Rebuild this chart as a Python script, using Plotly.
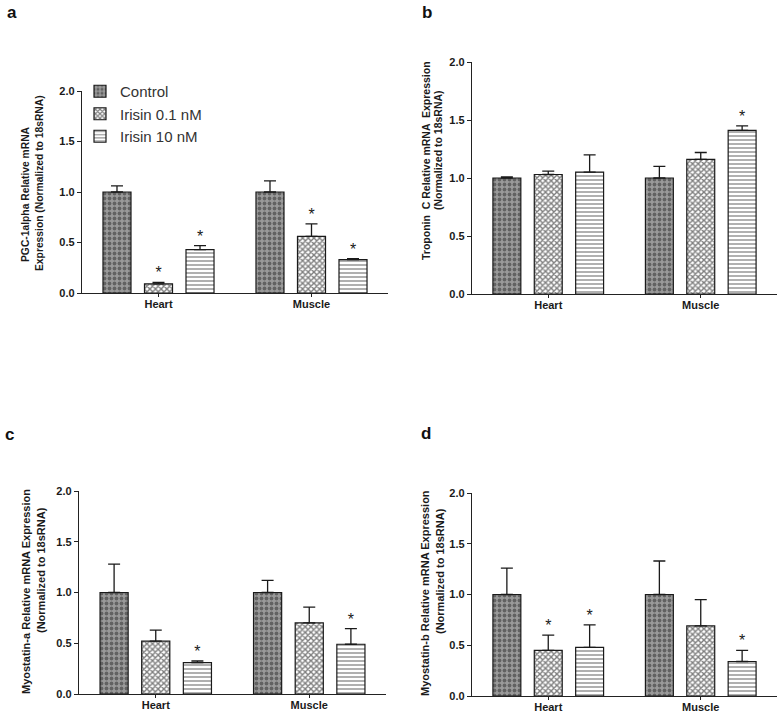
import plotly.graph_objects as go

W, H = 783, 716

categories = ["Heart", "Muscle"]
series_names = ["Control", "Irisin 0.1 nM", "Irisin 10 nM"]

# Panel a: PGC-1alpha
a_means = {"Control": [1.00, 1.00], "Irisin 0.1 nM": [0.09, 0.56], "Irisin 10 nM": [0.43, 0.33]}
a_err = {"Control": [0.06, 0.11], "Irisin 0.1 nM": [0.015, 0.125], "Irisin 10 nM": [0.04, 0.01]}
a_star = {"Control": [False, False], "Irisin 0.1 nM": [True, True], "Irisin 10 nM": [True, True]}

# Panel b: Troponin C
b_means = {"Control": [1.00, 1.00], "Irisin 0.1 nM": [1.03, 1.16], "Irisin 10 nM": [1.05, 1.41]}
b_err = {"Control": [0.01, 0.10], "Irisin 0.1 nM": [0.03, 0.06], "Irisin 10 nM": [0.15, 0.04]}
b_star = {"Control": [False, False], "Irisin 0.1 nM": [False, False], "Irisin 10 nM": [False, True]}

# Panel c: Myostatin-a
c_means = {"Control": [1.00, 1.00], "Irisin 0.1 nM": [0.52, 0.70], "Irisin 10 nM": [0.31, 0.49]}
c_err = {"Control": [0.28, 0.12], "Irisin 0.1 nM": [0.11, 0.155], "Irisin 10 nM": [0.015, 0.155]}
c_star = {"Control": [False, False], "Irisin 0.1 nM": [False, False], "Irisin 10 nM": [True, True]}

# Panel d: Myostatin-b
d_means = {"Control": [1.00, 1.00], "Irisin 0.1 nM": [0.45, 0.69], "Irisin 10 nM": [0.48, 0.34]}
d_err = {"Control": [0.26, 0.33], "Irisin 0.1 nM": [0.15, 0.26], "Irisin 10 nM": [0.22, 0.11]}
d_star = {"Control": [False, False], "Irisin 0.1 nM": [True, False], "Irisin 10 nM": [True, True]}

y_ticks = [0.0, 0.5, 1.0, 1.5, 2.0]
y_ticklabels = ["0.0", "0.5", "1.0", "1.5", "2.0"]

panels = [
    dict(label="a", means=a_means, err=a_err, star=a_star,
         titles=["PGC-1alpha Relative mRNA", "Expression (Normalized to 18sRNA)"], tsize=10.3,
         dom_px=(82, 388, 91, 293), title_px=[(26, 194), (39, 183)], label_px=(12, 12)),
    dict(label="b", means=b_means, err=b_err, star=b_star,
         titles=["Troponin  C Relative mRNA  Expression", "(Normalized to 18sRNA)"], tsize=10.5,
         dom_px=(472, 777, 62, 294), title_px=[(426, 161), (438, 150)], label_px=(427, 12)),
    dict(label="c", means=c_means, err=c_err, star=c_star,
         titles=["Myostatin-a Relative mRNA Expression", "(Normalized to 18sRNA)"], tsize=11,
         dom_px=(79, 386, 491, 694), title_px=[(26, 592), (41, 570)], label_px=(9, 435)),
    dict(label="d", means=d_means, err=d_err, star=d_star,
         titles=["Myostatin-b Relative mRNA Expression", "(Normalized to 18sRNA)"], tsize=11,
         dom_px=(472, 777, 493, 696), title_px=[(425, 593), (440, 571)], label_px=(426, 433)),
]

styles = {
    "Control": dict(shape=".", fgcolor="#2a2a2a", bgcolor="#9a9a9a", size=5, solidity=0.45),
    "Irisin 0.1 nM": dict(shape="x", fgcolor="#000000", bgcolor="#ffffff", size=4, solidity=0.58),
    "Irisin 10 nM": dict(shape="-", fgcolor="#3a3a3a", bgcolor="#ffffff", size=4, solidity=0.4),
}

BARGAP = 0.186
FONT = "Arial, Liberation Sans, sans-serif"

fig = go.Figure()
annotations = []
layout_axes = {}
xpos = list(range(len(categories)))
n = len(series_names)
slot = (1 - BARGAP) / n

for pi, p in enumerate(panels):
    k = "" if pi == 0 else str(pi + 1)
    xa, ya = "x" + k, "y" + k
    for si, s in enumerate(series_names):
        fig.add_trace(go.Bar(
            x=xpos, y=p["means"][s], name=s, xaxis=xa, yaxis=ya,
            showlegend=(pi == 0), legendgroup=s,
            marker=dict(color=styles[s]["bgcolor"], pattern=styles[s],
                        line=dict(color="#1a1a1a", width=1.2)),
            error_y=dict(type="data", array=p["err"][s], arrayminus=[0] * len(categories),
                         symmetric=False, color="#1a1a1a", thickness=1.3, width=6),
        ))
        sx, sy, st = [], [], []
        for ci in range(len(categories)):
            if p["star"][s][ci]:
                sx.append(xpos[ci] + (si - (n - 1) / 2) * slot)
                sy.append(p["means"][s][ci] + p["err"][s][ci])
                st.append("*")
        if sx:
            fig.add_trace(go.Scatter(
                x=sx, y=sy, text=st, mode="text", textposition="top center",
                textfont=dict(family=FONT, size=16, color="#1a1a1a"),
                xaxis=xa, yaxis=ya, showlegend=False, hoverinfo="skip", cliponaxis=False,
            ))
    x0, x1, yt, yb = p["dom_px"]
    layout_axes["xaxis" + k] = dict(
        domain=[x0 / W, x1 / W], anchor=ya, range=[-0.5, 1.5], automargin=False,
        tickvals=xpos, ticktext=["<b>%s</b>" % c for c in categories],
        ticks="outside", ticklen=3, tickwidth=1, ticklabelstandoff=-2,
        tickcolor="#222", showline=True, linecolor="#222", linewidth=1.3,
        showgrid=False, zeroline=False,
        tickfont=dict(family=FONT, size=11, color="#1a1a1a"),
    )
    layout_axes["yaxis" + k] = dict(
        domain=[1 - yb / H, 1 - yt / H], anchor=xa, range=[0, 2], automargin=False,
        tickvals=y_ticks, ticktext=["<b>%s</b>" % t for t in y_ticklabels],
        ticks="outside", ticklen=4, tickwidth=1, tickcolor="#222",
        showline=True, linecolor="#222", linewidth=1.3, showgrid=False, zeroline=False,
        tickfont=dict(family=FONT, size=11, color="#1a1a1a"),
    )
    for t, (tx, ty) in zip(p["titles"], p["title_px"]):
        annotations.append(dict(
            text="<b>%s</b>" % t, xref="paper", yref="paper",
            x=tx / W, y=1 - ty / H, xanchor="center", yanchor="middle", textangle=-90,
            showarrow=False, font=dict(family=FONT, size=p["tsize"], color="#1a1a1a"),
        ))
    lx, ly = p["label_px"]
    annotations.append(dict(
        text="<b>%s</b>" % p["label"], xref="paper", yref="paper",
        x=lx / W, y=1 - ly / H, xanchor="center", yanchor="middle",
        showarrow=False, font=dict(family=FONT, size=17, color="#111"),
    ))

fig.update_layout(
    width=W, height=H, margin=dict(l=0, r=0, t=0, b=0),
    paper_bgcolor="white", plot_bgcolor="white",
    barmode="group", bargap=BARGAP, bargroupgap=0.325,
    annotations=annotations,
    legend=dict(x=80 / W, y=1 - 75 / H, xanchor="left", yanchor="top",
                font=dict(family=FONT, size=15, color="#333"), bgcolor="rgba(0,0,0,0)",
                itemwidth=30, tracegroupgap=0),
    **layout_axes,
)

fig.write_html("out.html", config={"displayModeBar": False},
               post_script="document.body.style.margin='0';")
